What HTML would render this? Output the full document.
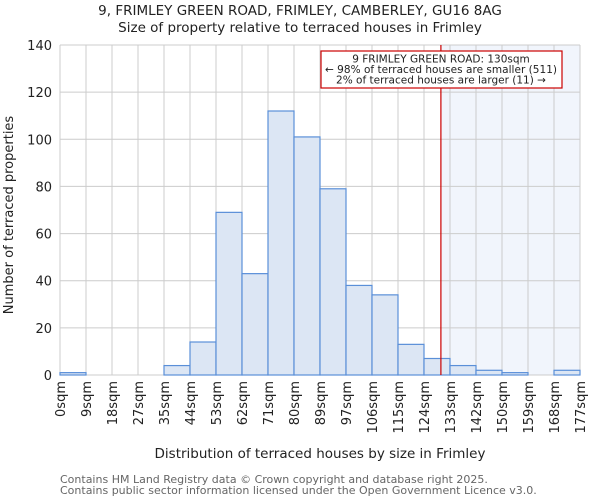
<!DOCTYPE html>
<html><head><meta charset="utf-8"><style>
body{margin:0;background:#fff;font-family:"DejaVu Sans","Liberation Sans",sans-serif;}
svg text{font-family:"DejaVu Sans","Liberation Sans",sans-serif;}
</style></head><body>
<svg id="chart" width="600" height="500" xmlns="http://www.w3.org/2000/svg">
<text x="300" y="15" text-anchor="middle" font-size="13.5" fill="#222">9, FRIMLEY GREEN ROAD, FRIMLEY, CAMBERLEY, GU16 8AG</text>
<text x="300" y="32" text-anchor="middle" font-size="13.5" fill="#222">Size of property relative to terraced houses in Frimley</text>
<g id="grid"></g><g id="bars"></g><g id="axes"></g>
<text x="320" y="458" text-anchor="middle" font-size="13.5" fill="#222">Distribution of terraced houses by size in Frimley</text>
<text transform="translate(13,215) rotate(-90)" text-anchor="middle" font-size="13" fill="#222">Number of terraced properties</text>
<text x="60" y="483" font-size="11" fill="#666">Contains HM Land Registry data © Crown copyright and database right 2025.</text>
<text x="60" y="494" font-size="11" fill="#666">Contains public sector information licensed under the Open Government Licence v3.0.</text>
</svg>
<script>
const binLabels=["0sqm","9sqm","18sqm","27sqm","35sqm","44sqm","53sqm","62sqm","71sqm","80sqm","89sqm","97sqm","106sqm","115sqm","124sqm","133sqm","142sqm","150sqm","159sqm","168sqm","177sqm"];
const counts=[1,0,0,0,4,14,69,43,112,101,79,38,34,13,7,4,2,1,0,2];
const yTicks=[0,20,40,60,80,100,120,140];
const propertyBin=14.65;
const NS="http://www.w3.org/2000/svg";
const X0=60,X1=580,Y0=375,Y1=45,YMAX=140;
const bw=(X1-X0)/counts.length;
const xs=i=>X0+i*bw;
const ys=v=>Y0-(v/YMAX)*(Y0-Y1);
function mk(p,t,a){const e=document.createElementNS(NS,t);for(const k in a)e.setAttribute(k,a[k]);p.appendChild(e);return e;}
const grid=document.getElementById('grid'),bars=document.getElementById('bars'),axes=document.getElementById('axes');
const px=xs(propertyBin);
const sh=mk(grid,'rect',{x:px,y:Y1,width:X1-px,height:Y0-Y1,fill:'#f1f5fc'});


yTicks.forEach(t=>{const l=mk(grid,'line',{x1:X0,x2:X1,y1:ys(t),y2:ys(t),stroke:'#cccccc'});


const tx=mk(axes,'text',{x:X0-8,y:ys(t)+5,'text-anchor':'end','font-size':'13',fill:'#222'});tx.textContent=t;

});
binLabels.forEach((lb,i)=>{const l=mk(grid,'line',{x1:xs(i),x2:xs(i),y1:Y1,y2:Y0,stroke:'#cccccc'});


const tx=mk(axes,'text',{transform:`translate(${xs(i)+5},${Y0+6}) rotate(-90)`,'text-anchor':'end','font-size':'13',fill:'#222'});tx.textContent=lb;

});
counts.forEach((c,i)=>{if(c<=0)return;const r=mk(bars,'rect',{x:xs(i),y:ys(c),width:bw,height:Y0-ys(c),fill:'#dce6f4',stroke:'#5a8fd8','stroke-width':'1.2'});

});
const ln=mk(axes,'line',{x1:px,x2:px,y1:Y1,y2:Y0,stroke:'#cc0000','stroke-width':'1.2'});


const bx=mk(axes,'rect',{x:321,y:51,width:241,height:37,fill:'#fff',stroke:'#cc0000','stroke-width':'1.2'});


["9 FRIMLEY GREEN ROAD: 130sqm","← 98% of terraced houses are smaller (511)","2% of terraced houses are larger (11) →"].forEach((s,i)=>{const t=mk(axes,'text',{x:441,y:62.5+i*10.5,'text-anchor':'middle','font-size':'10.5',fill:'#222',textLength:i==1?232:undefined});t.textContent=s;
if(i!=1)t.removeAttribute('textLength');

});
</script>
</body></html>
